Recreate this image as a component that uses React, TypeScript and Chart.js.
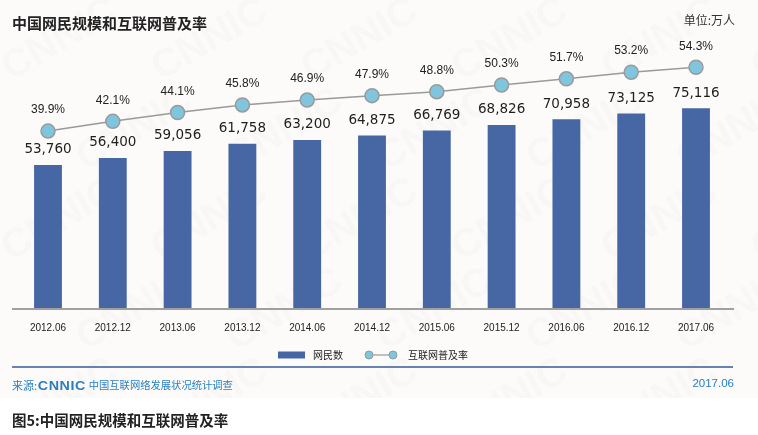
import React, { useEffect, useRef } from "react";
import { Chart, registerables } from "chart.js";

Chart.register(...registerables);

const categories = ["2012.06", "2012.12", "2013.06", "2013.12", "2014.06", "2014.12", "2015.06", "2015.12", "2016.06", "2016.12", "2017.06"];
const netizens = [53760, 56400, 59056, 61758, 63200, 64875, 66769, 68826, 70958, 73125, 75116];
const penetration = [39.9, 42.1, 44.1, 45.8, 46.9, 47.9, 48.8, 50.3, 51.7, 53.2, 54.3];
const seriesNames = ["网民数", "互联网普及率"];

const BAR_COLOR = "#4767a4";
const POINT_FILL = "#7fc5dd";
const LINE_COLOR = "#9a9a9a";
const CJK = "'Noto Sans CJK SC', 'Noto Sans', sans-serif";

const labelsPlugin = {
  id: "customLabels",
  beforeDraw(chart: any) {
    const ctx = chart.ctx;
    ctx.save();
    ctx.fillStyle = "#fcfbfa";
    ctx.fillRect(0, 0, chart.width, 398);
    ctx.beginPath();
    ctx.rect(0, 0, chart.width, 398);
    ctx.clip();
    // faint watermark
    ctx.fillStyle = "rgba(150,120,120,0.03)";
    ctx.font = "bold 40px 'Liberation Sans', sans-serif";
    ctx.textAlign = "center";
    ctx.textBaseline = "middle";
    for (let row = 0; row < 5; row++) {
      for (let col = 0; col < 6; col++) {
        ctx.save();
        const x = 60 + col * 150 + (row % 2) * 75;
        const y = 40 + row * 90;
        ctx.translate(x, y);
        ctx.rotate(-Math.PI / 6);
        ctx.fillText("CNNIC", 0, 0);
        ctx.restore();
      }
    }
    ctx.restore();
  },
  afterDatasetsDraw(chart: any) {
    const ctx = chart.ctx;
    const area = chart.chartArea;
    ctx.save();
    // x axis line
    ctx.strokeStyle = "#a0a0a0";
    ctx.lineWidth = 2;
    ctx.beginPath();
    ctx.moveTo(12, area.bottom + 1);
    ctx.lineTo(734, area.bottom + 1);
    ctx.stroke();

    const barMeta = chart.getDatasetMeta(0);
    ctx.fillStyle = "#1e1e1e";
    ctx.font = "13.5px 'DejaVu Sans', sans-serif";
    ctx.textAlign = "center";
    ctx.textBaseline = "middle";
    barMeta.data.forEach((el: any, i: number) => {
      ctx.fillText(netizens[i].toLocaleString("en-US"), el.x, el.y - 15);
    });
    const lineMeta = chart.getDatasetMeta(1);
    ctx.font = "12px 'Liberation Sans', sans-serif";
    ctx.fillStyle = "#222";
    lineMeta.data.forEach((el: any, i: number) => {
      ctx.fillText(penetration[i].toFixed(1) + "%", el.x, el.y - 21);
    });

    // legend
    ctx.fillStyle = BAR_COLOR;
    ctx.fillRect(278, 351.5, 27, 7);
    ctx.fillStyle = "#222";
    ctx.font = "10px " + CJK;
    ctx.textAlign = "left";
    ctx.fillText(seriesNames[0], 313, 355);
    ctx.strokeStyle = LINE_COLOR;
    ctx.lineWidth = 1.2;
    ctx.beginPath();
    ctx.moveTo(369, 355);
    ctx.lineTo(393, 355);
    ctx.stroke();
    [369, 393].forEach((cx) => {
      ctx.beginPath();
      ctx.arc(cx, 355, 4, 0, Math.PI * 2);
      ctx.fillStyle = POINT_FILL;
      ctx.fill();
      ctx.strokeStyle = LINE_COLOR;
      ctx.lineWidth = 1;
      ctx.stroke();
    });
    ctx.fillStyle = "#222";
    ctx.fillText(seriesNames[1], 408, 355);

    // divider line
    ctx.strokeStyle = "#3a5a9a";
    ctx.lineWidth = 1.5;
    ctx.beginPath();
    ctx.moveTo(12, 367);
    ctx.lineTo(733, 367);
    ctx.stroke();
    ctx.restore();
  },
};

export default function App() {
  const ref = useRef<HTMLCanvasElement | null>(null);
  useEffect(() => {
    document.body.style.margin = "0";
    const chart = new Chart(ref.current as HTMLCanvasElement, {
      type: "bar",
      data: {
        labels: categories,
        datasets: [
          {
            type: "bar",
            label: seriesNames[0],
            data: netizens,
            backgroundColor: BAR_COLOR,
            barPercentage: 0.43,
            categoryPercentage: 1,
            yAxisID: "y",
            order: 1,
          },
          {
            type: "line",
            label: seriesNames[1],
            data: penetration,
            borderColor: LINE_COLOR,
            borderWidth: 1.5,
            pointRadius: 7,
            pointBackgroundColor: POINT_FILL,
            pointBorderColor: LINE_COLOR,
            pointBorderWidth: 1.5,
            yAxisID: "y1",
            order: 0,
          } as any,
        ],
      },
      options: {
        responsive: false,
        animation: false,
        layout: { padding: { left: 15.6, right: 29.6, top: 42, bottom: 86 } },
        plugins: { legend: { display: false }, tooltip: { enabled: false } },
        scales: {
          x: {
            grid: { display: false, drawTicks: false },
            border: { display: false },
            ticks: {
              color: "#222",
              padding: 14.5,
              font: { family: "'Liberation Sans', sans-serif", size: 10 },
              maxRotation: 0,
              autoSkip: false,
            },
          },
          y: { display: false, min: 0, max: 100000 },
          y1: { display: false, min: 0, max: 60 },
        },
      },
      plugins: [labelsPlugin],
    });
    return () => chart.destroy();
  }, []);

  const abs = (s: React.CSSProperties): React.CSSProperties => ({ position: "absolute", whiteSpace: "nowrap", lineHeight: 1, ...s });

  return (
    <div style={{ position: "relative", width: 758, height: 435, background: "#fff", overflow: "hidden" }}>
      <canvas ref={ref} width={758} height={435} style={{ position: "absolute", left: 0, top: 0 }} />
      <div style={abs({ left: 12, top: 15, fontFamily: CJK, fontWeight: 700, fontSize: 15, color: "#222" })}>中国网民规模和互联网普及率</div>
      <div style={abs({ right: 23, top: 14, fontFamily: CJK, fontSize: 12, color: "#333" })}>单位:万人</div>
      <div style={abs({ left: 12, top: 379, fontFamily: CJK, fontSize: 11, color: "#2a7fc0", display: "flex", alignItems: "center" })}>
        <span>来源:</span>
        <span style={{ fontFamily: "'Liberation Sans', sans-serif", fontWeight: 900, fontSize: 13, letterSpacing: 0.5, margin: "0 5px 0 3px", transform: "scaleX(1.1)", display: "inline-block" }}>CNNIC</span>
        <span style={{ fontSize: 10.3 }}>中国互联网络发展状况统计调查</span>
      </div>
      <div style={abs({ right: 24, top: 378, fontFamily: "'Liberation Sans', sans-serif", fontSize: 11.5, color: "#2a7fc0" })}>2017.06</div>
      <div style={abs({ left: 12, top: 413, fontFamily: CJK, fontWeight: 700, fontSize: 14.5, color: "#222" })}>图5:中国网民规模和互联网普及率</div>
    </div>
  );
}
